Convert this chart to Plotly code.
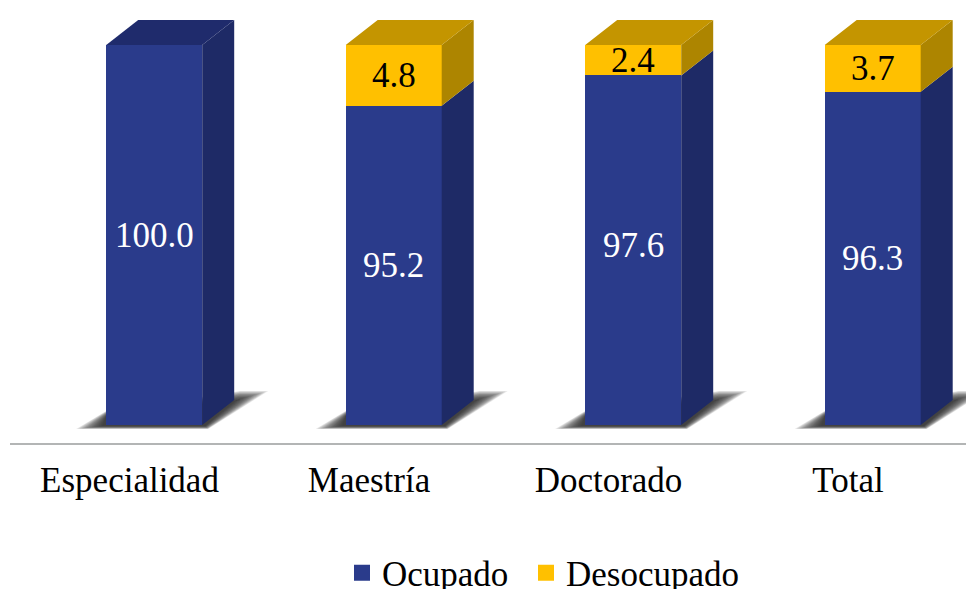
import plotly.graph_objects as go

categories = ["Especialidad", "Maestría", "Doctorado", "Total"]
ocupado = [100.0, 95.2, 97.6, 96.3]
desocupado = [0.0, 4.8, 2.4, 3.7]

BLUE, BLUE_SIDE, BLUE_TOP = "#2A3B8B", "#1E2A66", "#1F2B6C"
GOLD, GOLD_SIDE, GOLD_TOP = "#FFC000", "#AD8500", "#C49500"
FONT = "Liberation Serif"
FS = 35

PX_X = 239.5            # pixels per category
PX_Y = 380 / 30         # pixels per value unit
Y_MIN = 70
x_px = lambda p: p / PX_X
y_px = lambda p: p / PX_Y
X_OFF, X_W = x_px(-23.3), x_px(96)
DX, DY = x_px(32), y_px(25)

fig = go.Figure()

# bars
fig.add_bar(x=list(range(4)), y=[o - Y_MIN for o in ocupado], base=Y_MIN, offset=X_OFF, width=X_W,
            marker=dict(color=BLUE, line_width=0), showlegend=False, hoverinfo="skip")
fig.add_bar(x=list(range(4)), y=desocupado, base=ocupado, offset=X_OFF, width=X_W,
            marker=dict(color=GOLD, line_width=0), showlegend=False, hoverinfo="skip")

# 3D faces
def faces(pairs):
    xs, ys = [], []
    for pts in pairs:
        xs += [p[0] for p in pts] + [pts[0][0], None]
        ys += [p[1] for p in pts] + [pts[0][1], None]
    return xs, ys

def add_face(pairs, color):
    xs, ys = faces(pairs)
    fig.add_scatter(x=xs, y=ys, mode="lines", line=dict(width=0), fill="toself", fillcolor=color, showlegend=False, hoverinfo="skip")

side_b, side_g, top_b, top_g = [], [], [], []
for i, (o, d) in enumerate(zip(ocupado, desocupado)):
    l, r = i + X_OFF, i + X_OFF + X_W
    side_b.append([(r, Y_MIN), (r + DX, Y_MIN + DY), (r + DX, o + DY), (r, o)])
    if d > 0:
        side_g.append([(r, o), (r + DX, o + DY), (r + DX, o + d + DY), (r, o + d)])
    target = top_g if d > 0 else top_b
    h = o + d
    target.append([(l, h), (l + DX, h + DY), (r + DX, h + DY), (r, h)])
add_face(side_b, BLUE_SIDE)
add_face(side_g, GOLD_SIDE)
add_face(top_b, BLUE_TOP)
add_face(top_g, GOLD_TOP)

# legend entries
fig.add_scatter(x=[None], y=[None], mode="markers", name="Ocupado", legend="legend",
                marker=dict(symbol="square", size=17, color=BLUE))
fig.add_scatter(x=[None], y=[None], mode="markers", name="Desocupado", legend="legend2",
                marker=dict(symbol="square", size=17, color=GOLD))

# soft ground shadows, below the bars
LAYERS = 16
for i in range(4):
    l, r = i + X_OFF, i + X_OFF + X_W
    for k in range(LAYERS):
        t = k / (LAYERS - 1)
        pts = [
            (l + x_px(-30 + 26 * t), Y_MIN - y_px(4 - 3 * t)),
            (l + x_px(0), Y_MIN + y_px(14 - 5 * t)),
            (r + DX + x_px(6), Y_MIN + y_px(34 - 9 * t)),
            (r + DX + x_px(34 - 32 * t), Y_MIN + y_px(34 - 9 * t)),
            (r + x_px(6 - 3 * t), Y_MIN - y_px(4 - 3 * t)),
        ]
        path = "M " + " L ".join(f"{a},{b}" for a, b in pts) + " Z"
        fig.add_shape(type="path", path=path, xref="x", yref="y", layer="below", line_width=0, fillcolor="rgba(30,30,30,0.1)")

# value labels
label_nudge = [0, 0, 5, 0]
for i, (o, d) in enumerate(zip(ocupado, desocupado)):
    cx = i + X_OFF + X_W / 2
    fig.add_annotation(x=cx, y=(Y_MIN + o) / 2, text=f"{o:.1f}", showarrow=False, yshift=label_nudge[i], font=dict(family=FONT, size=FS, color="white"))
    if d > 0:
        fig.add_annotation(x=cx, y=o + d / 2, text=f"{d:.1f}", showarrow=False, font=dict(family=FONT, size=FS, color="black"))

legend_common = dict(orientation="h", xanchor="left", y=(443 - 573) / 443, yanchor="middle",
                     font=dict(family=FONT, size=FS), itemsizing="trace", bgcolor="rgba(0,0,0,0)")
fig.update_layout(
    width=966, height=589, autosize=False, barmode="overlay", bargap=0,
    paper_bgcolor="white", plot_bgcolor="white",
    margin=dict(l=10, r=0, t=0, b=146, autoexpand=False),
    font=dict(family=FONT, size=FS, color="black"),
    legend=dict(x=(342 - 10) / 956, **legend_common),
    legend2=dict(x=(526 - 10) / 956, **legend_common),
    xaxis=dict(range=[(10 - 129.5) / PX_X, (966 - 129.5) / PX_X], tickvals=list(range(4)), ticktext=categories,
               showgrid=False, zeroline=False, showline=True, linecolor="#B3B5B5", linewidth=2,
               ticks="outside", ticklen=5, tickcolor="rgba(0,0,0,0)", tickfont=dict(family=FONT, size=FS, color="black")),
    yaxis=dict(range=[Y_MIN - 18 / PX_Y, Y_MIN + 425 / PX_Y], visible=False),
)
fig.write_html("out.html", config={"displayModeBar": False},
               post_script="document.body.style.margin='0';document.documentElement.style.overflow='hidden';")
